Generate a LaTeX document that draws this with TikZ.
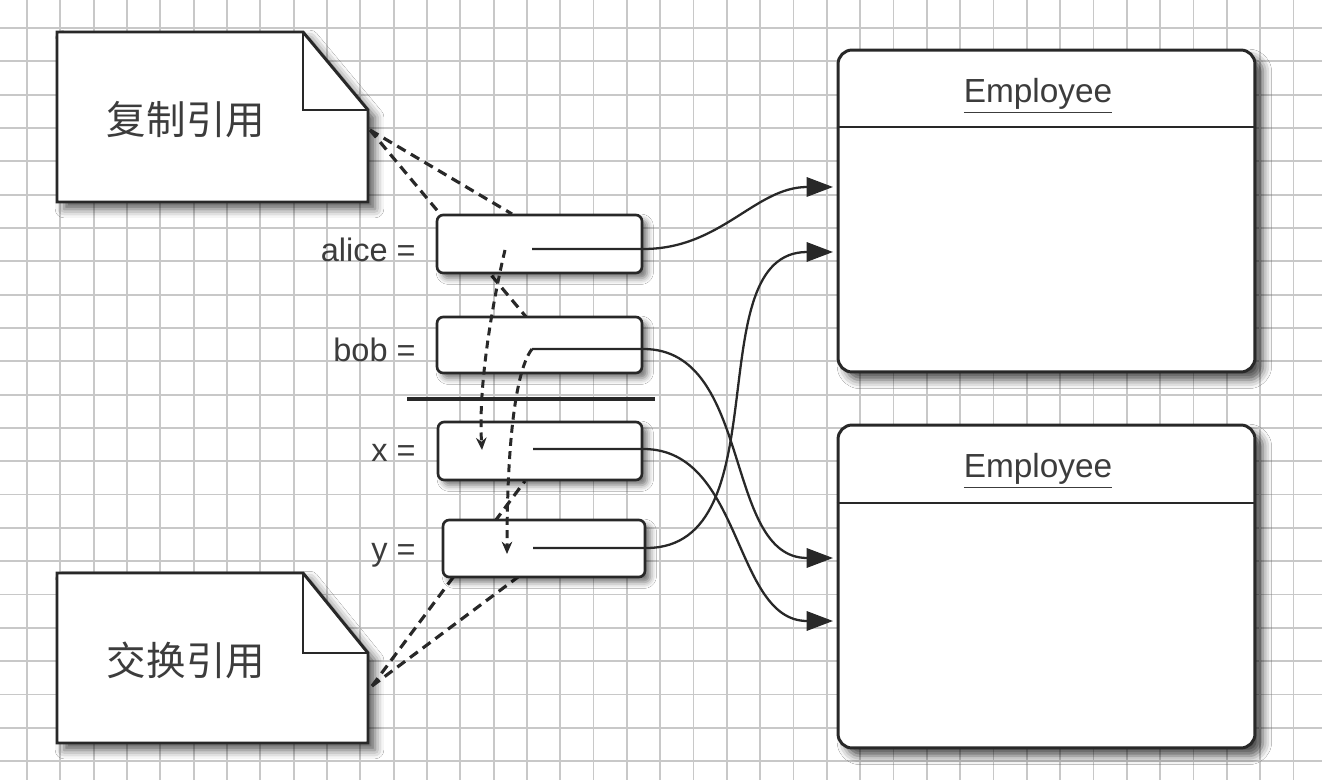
\documentclass[tikz,border=0pt]{standalone}
\usepackage{fontspec}
\setmainfont{Liberation Sans}
\newfontfamily\cjk{Noto Sans CJK SC}
\usetikzlibrary{arrows.meta,shadows.blur,calc}
\definecolor{ink}{RGB}{40,40,40}
\definecolor{txt}{RGB}{60,60,60}
\definecolor{gridc}{RGB}{200,200,200}
\begin{document}
\begin{tikzpicture}[x=0.02cm,y=-0.02cm,
  gridline/.style={draw=gridc,line width=1pt},
  notebox/.style={draw=ink,fill=white,line width=1.7pt,line join=miter,
    blur shadow={shadow xshift=4pt,shadow yshift=-4pt,shadow blur radius=5pt,shadow opacity=65}},
  notetext/.style={font=\cjk\fontsize{22.5}{26}\selectfont,text=txt},
  varbox/.style={draw=ink,fill=white,line width=1.5pt,rounded corners=3.5pt,
    inner sep=0pt,
    blur shadow={shadow xshift=3pt,shadow yshift=-3pt,shadow blur radius=3.5pt,shadow opacity=55}},
  varlabel/.style={font=\fontsize{18.5}{21}\selectfont,text=txt,anchor=base east,inner sep=0pt},
  empbox/.style={draw=ink,fill=white,line width=1.7pt,rounded corners=8pt,
    inner sep=0pt,minimum width=8.34cm,
    blur shadow={shadow xshift=4.5pt,shadow yshift=-4.5pt,shadow blur radius=5pt,shadow opacity=70}},
  emptext/.style={font=\fontsize{19}{22}\selectfont,text=txt,anchor=base,inner sep=0pt},
  conn/.style={draw=ink,line width=1.3pt,-{Triangle[length=15pt,width=11pt]}},
  notedash/.style={draw=ink,line width=1.8pt,dash pattern=on 5.5pt off 3.5pt},
  swapdash/.style={draw=ink,line width=1.7pt,dash pattern=on 4.5pt off 3pt,
    -{Stealth[length=7pt,width=6pt]}},
  bar/.style={draw=ink,line width=2.8pt}
]
\useasboundingbox (0,0) rectangle (1322,780);
\fill[white] (0,0) rectangle (1322,780);
% grid
\foreach \k in {0,...,39} {\draw[gridline] ({27+33.33*\k},0) -- ({27+33.33*\k},780);}
\foreach \k in {0,...,22} {\draw[gridline] (0,{28+33.33*\k}) -- (1322,{28+33.33*\k});}

% notes
\path[notebox] (57,32) -- (303,32) -- (368,110) -- (368,202) -- (57,202) -- cycle;
\draw[ink,line width=1.7pt] (303,32) -- (303,110) -- (368,110);
\node[notetext] (n1t) at (186,120) {复制引用};
\coordinate (n1c) at (370,130);

\path[notebox] (57,573) -- (303,573) -- (368,653) -- (368,743) -- (57,743) -- cycle;
\draw[ink,line width=1.7pt] (303,573) -- (303,653) -- (368,653);
\node[notetext] (n2t) at (186,660) {交换引用};
\coordinate (n2c) at (372,686);

% target points of note lines
\coordinate (aTop) at (512,214);
\coordinate (bTop) at (527,318);
\coordinate (yBot) at (518,577);
\coordinate (xBot) at (525,481);
\draw[notedash] (n1c) -- (aTop);
\draw[notedash] (n1c) -- (bTop);
\draw[notedash] (n2c) -- (yBot);
\draw[notedash] (n2c) -- (xBot);

% variable boxes
\node[varbox,minimum width=4.1cm,minimum height=1.16cm] (alice) at (539.5,244) {};
\node[varbox,minimum width=4.1cm,minimum height=1.12cm] (bob) at (539.5,345) {};
\node[varbox,minimum width=4.08cm,minimum height=1.16cm] (xv) at (540,451) {};
\node[varbox,minimum width=4.04cm,minimum height=1.14cm] (yv) at (544,548.5) {};

\node[varlabel] (la) at (416,262) {alice =};
\node[varlabel] (lb) at (416,362) {bob =};
\node[varlabel] (lx) at (416,461) {x =};
\node[varlabel] (ly) at (416,560) {y =};

\draw[bar] (407,399) -- (655,399);

% reference start points
\coordinate (ap) at (532,249);
\coordinate (bp) at (532,349);
\coordinate (xp) at (533,449);
\coordinate (yp) at (533,548);

% employee boxes
\node[empbox,minimum height=6.44cm] (emp1) at (1046.5,211) {};
\node[empbox,minimum height=6.46cm] (emp2) at (1046.5,586.5) {};
\draw[ink,line width=1.5pt] (emp1.west |- 0,127) -- (emp1.east |- 0,127);
\draw[ink,line width=1.5pt] (emp2.west |- 0,503) -- (emp2.east |- 0,503);
\node[emptext] (e1t) at (1038,103) {\underline{Employee}};
\node[emptext] (e2t) at (1038,478) {\underline{Employee}};

\coordinate (e1a) at (833,187);
\coordinate (e1b) at (833,252);
\coordinate (e2a) at (833,558);
\coordinate (e2b) at (833,621);

% solid connectors
\draw[conn] (ap) -- (ap -| alice.east) to[out=0,in=180] (e1a);
\draw[conn] (yp) -- (yp -| yv.east) to[out=0,in=180] (e1b);
\draw[conn] (bp) -- (bp -| bob.east) to[out=0,in=180] (e2a);
\draw[conn] (xp) -- (xp -| xv.east) to[out=0,in=180] (e2b);

% swap dashed arrows
\coordinate (as) at (505,250);
\coordinate (xe) at (482,450);
\coordinate (ye) at (507,554);
\draw[swapdash] (as) .. controls (493,300) and (478,385) .. (xe);
\draw[swapdash] (bp) .. controls (512,375) and (507,470) .. (ye);
\end{tikzpicture}
\end{document}
